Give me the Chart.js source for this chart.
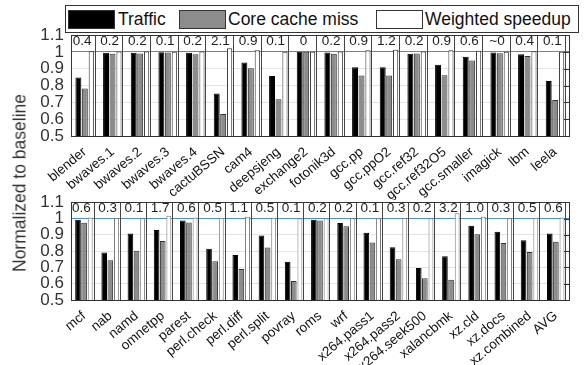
<!DOCTYPE html>
<html>
<head>
<meta charset="utf-8">
<script src="https://cdn.jsdelivr.net/npm/chart.js@4.4.1/dist/chart.umd.min.js"></script>
<style>
  body { margin: 0; background: #fff; font-family: 'Liberation Sans', Arial, sans-serif; }
  #wrap { position: relative; width: 588px; height: 365px; overflow: hidden; }
  canvas { position: absolute; left: 0; }
  #legend { position: absolute; left: 65px; top: 5px; width: 512px; height: 26px; border: 1px solid #333; background: #fff; z-index: 2; }
  .sw { position: absolute; top: 4px; width: 45px; height: 17px; border: 1px solid #333; }
  .lt { position: absolute; top: 3px; font-size: 17.5px; color: #111; line-height: 20px; }
  #ytitle { position: absolute; left: 20px; top: 183px; transform: translate(-50%, -50%) rotate(-90deg); white-space: nowrap; font-size: 17.5px; color: #333; }
</style>
</head>
<body>
<div id="wrap">
  <canvas id="myChart" width="588" height="200" style="top:0px"></canvas>
  <canvas id="myChart2" width="588" height="180" style="top:185px"></canvas>
  <div id="legend">
    <div class="sw" style="left:2px;background:#000"></div><div class="lt" style="left:52px">Traffic</div>
    <div class="sw" style="left:113px;background:#8c8c8c"></div><div class="lt" style="left:162px">Core cache miss</div>
    <div class="sw" style="left:310px;background:#fff"></div><div class="lt" style="left:359px">Weighted speedup</div>
  </div>
  <div id="ytitle">Normalized to baseline</div>
</div>
<script>
// panel 1
var labels1 = ['blender', 'bwaves.1', 'bwaves.2', 'bwaves.3', 'bwaves.4', 'cactuBSSN', 'cam4', 'deepsjeng', 'exchange2',
  'fotonik3d', 'gcc.pp', 'gcc.ppO2', 'gcc.ref32', 'gcc.ref32O5', 'gcc.smaller', 'imagick', 'lbm', 'leela'];
var traffic1 = [0.847, 0.994, 0.995, 0.997, 0.995, 0.753, 0.937, 0.857, 1.0, 0.996, 0.908, 0.908, 0.988, 0.924, 0.971, 0.996, 0.986, 0.827];
var coreMiss1 = [0.782, 0.988, 0.99, 0.996, 0.986, 0.631, 0.902, 0.718, 1.0, 0.988, 0.859, 0.859, 0.99, 0.861, 0.949, 0.992, 0.975, 0.714];
var speedup1 = [1.004, 1.002, 1.002, 1.001, 1.002, 1.021, 1.009, 1.001, 1.0, 1.002, 1.009, 1.012, 1.002, 1.009, 1.006, 1.0, 1.004, 1.001];
var gain1 = ['0.4', '0.2', '0.2', '0.1', '0.2', '2.1', '0.9', '0.1', '0', '0.2', '0.9', '1.2', '0.2', '0.9', '0.6', '~0', '0.4', '0.1'];

// panel 2
var labels2 = ['mcf', 'nab', 'namd', 'omnetpp', 'parest', 'perl.check', 'perl.diff', 'perl.split', 'povray', 'roms', 'wrf',
  'x264.pass1', 'x264.pass2', 'x264.seek500', 'xalancbmk', 'xz.cld', 'xz.docs', 'xz.combined', 'AVG'];
var traffic2 = [0.992, 0.792, 0.908, 0.93, 0.988, 0.814, 0.776, 0.896, 0.734, 0.992, 0.972, 0.912, 0.824, 0.696, 0.768, 0.956, 0.918, 0.866, 0.908];
var coreMiss2 = [0.974, 0.744, 0.802, 0.862, 0.976, 0.738, 0.69, 0.822, 0.616, 0.988, 0.952, 0.852, 0.75, 0.634, 0.624, 0.904, 0.85, 0.794, 0.858];
var speedup2 = [1.006, 1.003, 1.001, 1.017, 1.006, 1.005, 1.011, 1.005, 1.001, 1.002, 1.002, 1.001, 1.003, 1.002, 1.032, 1.010, 1.003, 1.005, 1.006];
var gain2 = ['0.6', '0.3', '0.1', '1.7', '0.6', '0.5', '1.1', '0.5', '0.1', '0.2', '0.2', '0.1', '0.3', '0.2', '3.2', '1.0', '0.3', '0.5', '0.6'];

var yTicks = [0.5, 0.6, 0.7, 0.8, 0.9, 1, 1.1];
var FONT = "'Liberation Sans', Arial, sans-serif";

// separators, plot box and the gain numbers on top
var panelDeco = {
  id: 'panelDeco',
  beforeDatasetsDraw: function(chart) {
    var c = chart.ctx, a = chart.chartArea, xs = chart.scales.x;
    var w = (a.right - a.left) / chart.data.labels.length;
    c.save();
    c.strokeStyle = '#444';
    c.lineWidth = 1;
    for (var i = 0; i < chart.data.labels.length; i++) {
      var x = Math.round(xs.getPixelForValue(i) + 0.36 * w) + 0.5;
      c.beginPath();
      c.moveTo(x, a.top);
      c.lineTo(x, a.bottom);
      c.stroke();
    }
    c.restore();
  },
  afterDraw: function(chart, args, opts) {
    var c = chart.ctx, a = chart.chartArea, xs = chart.scales.x, ys = chart.scales.y;
    var w = (a.right - a.left) / chart.data.labels.length;
    c.save();
    c.strokeStyle = '#333';
    c.lineWidth = 1;
    c.strokeRect(Math.round(a.left) + 0.5, Math.round(a.top) + 0.5, Math.round(a.right - a.left), Math.round(a.bottom - a.top));
    yTicks.forEach(function(v) {
      var y = Math.round(ys.getPixelForValue(v)) + 0.5;
      c.beginPath();
      c.moveTo(a.right, y);
      c.lineTo(a.right - 5, y);
      c.stroke();
    });
    c.fillStyle = '#222';
    c.font = '13.5px ' + FONT;
    c.textAlign = 'center';
    c.textBaseline = 'middle';
    var yl = ys.getPixelForValue(1.064);
    opts.labels.forEach(function(t, i) {
      c.fillText(t, xs.getPixelForValue(i) - 0.1 * w, yl);
    });
    c.restore();
  }
};

function makePanel(id, labels, traffic, coreMiss, speedup, gain, padTop, xHeight, whiteBorder) {
  return new Chart(document.getElementById(id), {
    type: 'bar',
    data: {
      labels: labels,
      datasets: [{
        label: 'Traffic',
        data: traffic,
        backgroundColor: '#000',
        borderColor: '#000',
        borderWidth: 1,
        barPercentage: 0.92,
        categoryPercentage: 0.7
      }, {
        label: 'Core cache miss',
        data: coreMiss,
        backgroundColor: '#8c8c8c',
        borderColor: '#333',
        borderWidth: 1,
        barPercentage: 0.92,
        categoryPercentage: 0.7
      }, {
        label: 'Weighted speedup',
        data: speedup,
        backgroundColor: '#fff',
        borderColor: whiteBorder,
        borderWidth: 1,
        barPercentage: 0.8,
        categoryPercentage: 0.7
      }]
    },
    plugins: [panelDeco],
    options: {
      responsive: false,
      animation: false,
      devicePixelRatio: 1,
      layout: { padding: { top: padTop, right: 19, left: 0, bottom: 0 } },
      plugins: {
        legend: { display: false },
        tooltip: { enabled: false },
        panelDeco: { labels: gain }
      },
      scales: {
        x: {
          grid: { display: false },
          border: { display: true, color: '#333' },
          ticks: {
            autoSkip: false,
            maxRotation: 40,
            minRotation: 40,
            padding: 0,
            color: '#111',
            font: { family: FONT, size: 13.5 }
          },
          afterFit: function(s) { s.height = xHeight; }
        },
        y: {
          min: 0.5,
          max: 1.1,
          afterBuildTicks: function(s) { s.ticks = yTicks.map(function(v) { return { value: v }; }); },
          grid: {
            drawTicks: false,
            color: function(ctx) {
              var v = ctx.tick.value;
              if (Math.abs(v - 1) < 1e-6) return '#4a90d0';
              if (v > 1.05 || v < 0.55) return '#333';
              return '#e4e4e4';
            }
          },
          border: { display: true, color: '#333' },
          ticks: {
            autoSkip: false,
            padding: 7,
            color: '#333',
            font: { family: FONT, size: 17 },
            callback: function(v) { return String(+v.toFixed(1)); }
          },
          afterFit: function(s) { s.width = 71; }
        }
      }
    }
  });
}

var chart1 = makePanel('myChart', labels1, traffic1, coreMiss1, speedup1, gain1, 35, 64, '#333');
var chart2 = makePanel('myChart2', labels2, traffic2, coreMiss2, speedup2, gain2, 15.5, 65, '#777');
</script>
</body>
</html>
